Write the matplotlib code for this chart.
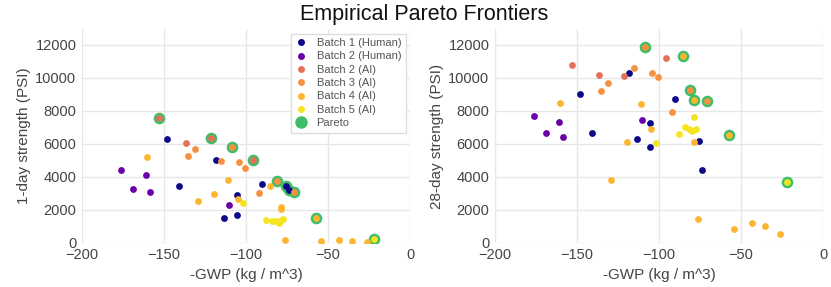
import matplotlib
matplotlib.use("Agg")
import matplotlib.pyplot as plt
from matplotlib.lines import Line2D
import numpy as np

# -GWP values (shared by both panels) and strengths per batch
batches = ["Batch 1 (Human)", "Batch 2 (Human)", "Batch 2 (AI)", "Batch 3 (AI)", "Batch 4 (AI)", "Batch 5 (AI)"]
colors = ["#0d0887", "#6a00a8", "#e8705b", "#f8913f", "#fdb52f", "#f3e51f"]

gwp_b1 = [-148.0, -141.0, -118.4, -113.2, -105.5, -105.3, -90.0, -75.5, -73.7]
day1_b1 = [6280, 3410, 5010, 1520, 1680, 2910, 3540, 3450, 3220]
day28_b1 = [9030, 6650, 10280, 6280, 5780, 7250, 8690, 6200, 4440]

gwp_b2h = [-176.4, -169.1, -161.0, -158.7, -110.2]
day1_b2h = [4420, 3270, 4100, 3070, 2300]
day28_b2h = [7660, 6670, 7350, 6420, 7430]

gwp_b2a = [-153.0, -136.3, -121.6, -96.0]
day1_b2a = [7580, 6060, 6380, 5010]
day28_b2a = [10810, 10180, 10140, 11190]

gwp_b3 = [-135.2, -131.4, -115.0, -108.8, -104.4, -100.7, -91.8, -81.4, -70.8]
day1_b3 = [5230, 5660, 4930, 5780, 4870, 4530, 3010, 3720, 3090]
day28_b3 = [9210, 9700, 10570, 11900, 10300, 10040, 7960, 9250, 8600]

gwp_b4 = [-160.5, -129.5, -119.7, -111.0, -104.8, -85.5, -78.9, -78.8, -76.3, -57.3, -54.1, -43.3, -35.1, -26.1]
day1_b4 = [5190, 2510, 2950, 3820, 2650, 3430, 2180, 2020, 180, 1470, 100, 180, 120, 60]
day28_b4 = [8460, 3780, 6080, 8440, 6870, 11350, 8640, 6140, 1430, 6510, 850, 1210, 1030, 550]

gwp_b5 = [-102.1, -87.6, -84.1, -81.8, -79.8, -78.9, -77.6, -21.8]
day1_b5 = [2400, 1350, 1330, 1310, 1210, 1400, 1450, 220]
day28_b5 = [6020, 6580, 7010, 6890, 6780, 7630, 6890, 3680]

gwp_all = [gwp_b1, gwp_b2h, gwp_b2a, gwp_b3, gwp_b4, gwp_b5]
day1_all = [day1_b1, day1_b2h, day1_b2a, day1_b3, day1_b4, day1_b5]
day28_all = [day28_b1, day28_b2h, day28_b2a, day28_b3, day28_b4, day28_b5]

pareto_color = "#3fbe6a"
text_color = "#444444"


def pareto_mask(x, y):
    # a point is on the frontier if nothing is at least as good in both and better in one
    x = np.asarray(x)
    y = np.asarray(y)
    mask = np.ones(len(x), dtype=bool)
    for i in range(len(x)):
        better = (x >= x[i]) & (y >= y[i]) & ((x > x[i]) | (y > y[i]))
        if better.any():
            mask[i] = False
    return mask


def panel(ax, strengths, ylabel):
    x = np.concatenate([np.asarray(g, dtype=float) for g in gwp_all])
    y = np.concatenate([np.asarray(s, dtype=float) for s in strengths])
    m = pareto_mask(x, y)
    ax.scatter(x[m], y[m], s=70, color=pareto_color, zorder=2, linewidths=0)
    for g, s, c in zip(gwp_all, strengths, colors):
        ax.scatter(g, s, s=24, color=c, zorder=3, linewidths=0)

    ax.set_xlim(-200, 0)
    ax.set_ylim(0, 12950)
    ax.set_xticks([-200, -150, -100, -50, 0])
    ax.set_yticks(range(0, 12001, 2000))
    ax.grid(True, color="#e6e6e6", linewidth=1)
    ax.set_axisbelow(True)
    for sp in ax.spines.values():
        sp.set_visible(False)
    ax.tick_params(length=0, labelsize=10.5, labelcolor=text_color, pad=4)
    ax.set_xlabel("-GWP (kg / m^3)", fontsize=11, color=text_color, labelpad=4)
    ax.set_ylabel(ylabel, fontsize=11, color=text_color, labelpad=3)


plt.rcParams["font.family"] = ["Liberation Sans", "DejaVu Sans"]

fig = plt.figure(figsize=(8.31, 2.87), dpi=100)
ax1 = fig.add_axes([0.0987, 0.1544, 0.3947, 0.7436])
ax2 = fig.add_axes([0.5957, 0.1544, 0.3947, 0.7436])

panel(ax1, day1_all, "1-day strength (PSI)")
panel(ax2, day28_all, "28-day strength (PSI)")

handles = [Line2D([], [], marker="o", linestyle="", markersize=5, markerfacecolor=c, markeredgewidth=0)
           for c in colors]
handles.append(Line2D([], [], marker="o", linestyle="", markersize=9, markerfacecolor=pareto_color, markeredgewidth=0))
leg = ax1.legend(handles, batches + ["Pareto"], loc="upper right", fontsize=8, labelspacing=0.3,
                 handlelength=1.0, handletextpad=0.9, borderpad=0.4, borderaxespad=0.4,
                 framealpha=1, edgecolor="#dddddd", fancybox=False, bbox_to_anchor=(1.0, 1.0))
for t in leg.get_texts():
    t.set_color("#555555")

fig.suptitle("Empirical Pareto Frontiers", x=0.51, y=0.985, fontsize=15.5, color="#111111")

fig.savefig("out.png", dpi=100)
